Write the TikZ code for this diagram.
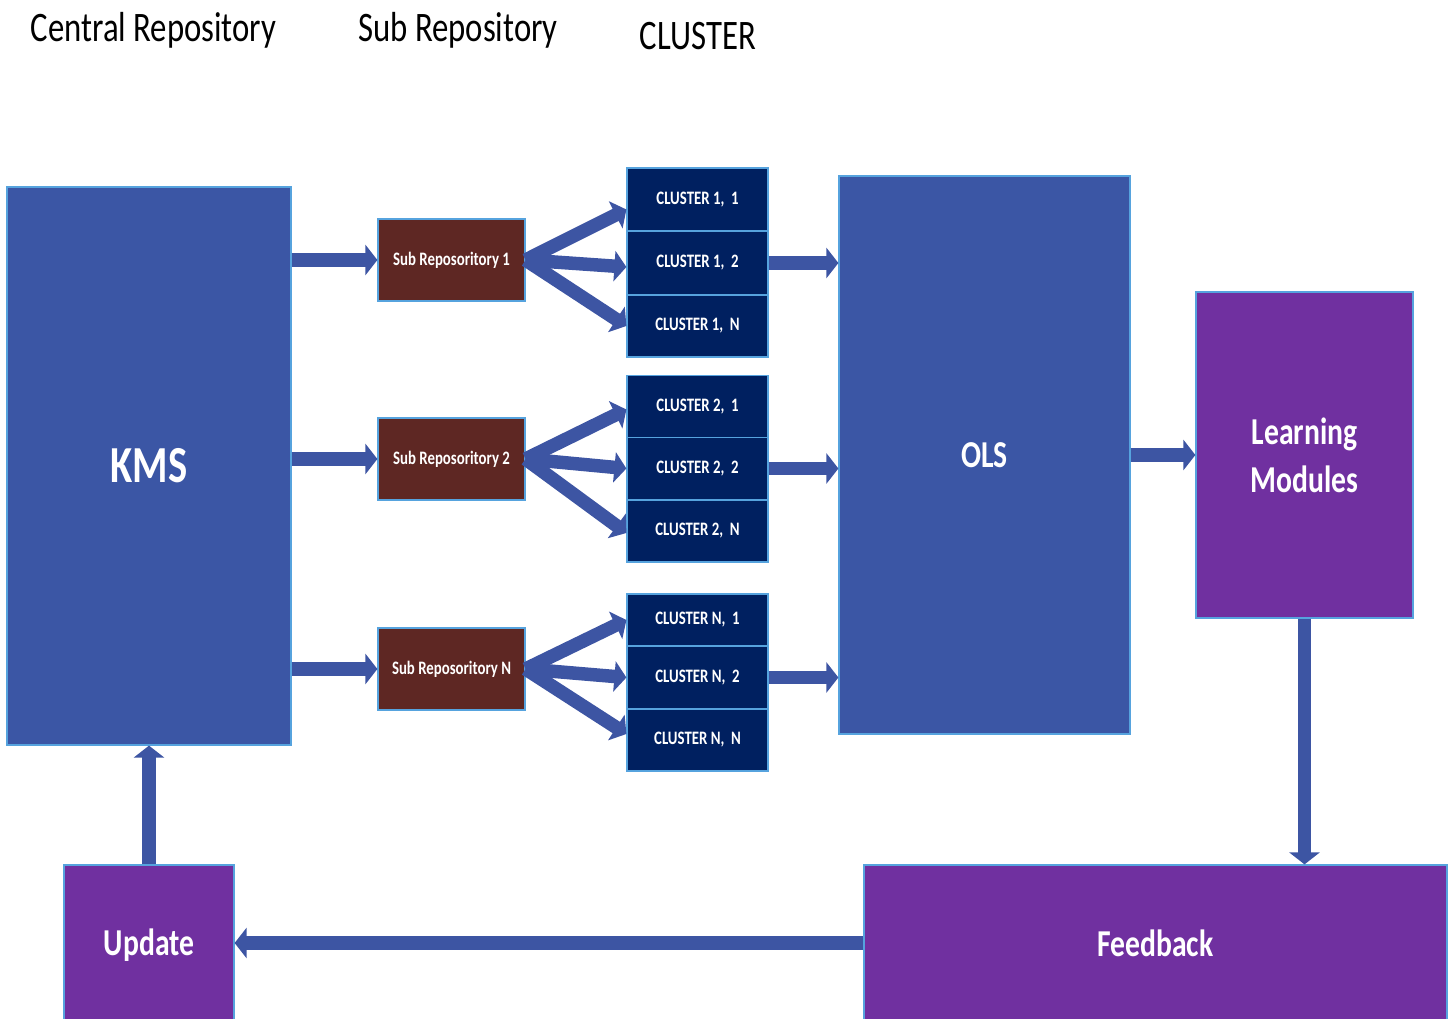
\documentclass[tikz,border=0pt]{standalone}
\usepackage{fontspec}
\setmainfont{Carlito}[FakeStretch=0.78]
\usepackage{tikz}
\usetikzlibrary{arrows.meta,calc}

\definecolor{kmsblue}{RGB}{59,86,165}
\definecolor{arrowblue}{RGB}{61,85,163}
\definecolor{edgeblue}{RGB}{86,163,222}
\definecolor{subbrown}{RGB}{94,39,35}
\definecolor{clnavy}{RGB}{0,32,96}
\definecolor{lmpurple}{RGB}{112,48,160}

\tikzset{
	box/.style={draw=edgeblue, line width=1.2pt, inner sep=0pt, text=white, align=center},
	bigbox/.style={box, fill=kmsblue, minimum width=284pt, minimum height=558pt},
	subbox/.style={box, fill=subbrown, minimum width=147pt, minimum height=82pt, font=\bfseries\fontsize{19}{22}\selectfont},
	clbox/.style={box, fill=clnavy, minimum width=141pt, font=\bfseries\fontsize{19}{22}\selectfont},
	purplebox/.style={box, fill=lmpurple, font=\bfseries\fontsize{38}{48}\selectfont},
	title/.style={anchor=base, font=\fontsize{42}{50}\selectfont},
	arr/.style={draw=arrowblue, line width=13.5pt, -{Triangle[width=30pt,length=12pt]}}
}

\begin{document}
\begin{tikzpicture}[x=1pt, y=-1pt]
		%%%%% START %%%%%
		\useasboundingbox (0, 0) rectangle (1454, 1019);
		
		\node[title] (tcentral) at (153.5, 42) {Central Repository};
		\node[title] (tsub) at (458, 41.5) {Sub Repository};
		\node[title] (tcluster) at (698, 49.5) {CLUSTER};
		
		\node[bigbox, font=\bfseries\fontsize{52}{60}\selectfont] (kms) at (149, 466) {KMS};
		\node[bigbox, minimum width=291pt, font=\bfseries\fontsize{38}{46}\selectfont] (ols) at (984.5, 455) {OLS};
		
		\node[subbox] (sub1) at (451.5, 260) {Sub Reposoritory 1};
		\node[subbox] (sub2) at (451.5, 459) {Sub Reposoritory 2};
		\node[subbox] (sub3) at (451.5, 669) {Sub Reposoritory N};
		
		\node[clbox, minimum height=63pt] (c11) at (697.5, 199.5) {CLUSTER 1,\ \ 1};
		\node[clbox, minimum height=64pt] (c12) at (697.5, 263) {CLUSTER 1,\ \ 2};
		\node[clbox, minimum height=62pt] (c13) at (697.5, 326) {CLUSTER 1,\ \ N};
		
		\node[clbox, minimum height=62pt] (c21) at (697.5, 406.5) {CLUSTER 2,\ \ 1};
		\node[clbox, minimum height=62pt] (c22) at (697.5, 468.5) {CLUSTER 2,\ \ 2};
		\node[clbox, minimum height=62pt] (c23) at (697.5, 531) {CLUSTER 2,\ \ N};
		
		\node[clbox, minimum height=52pt] (c31) at (697.5, 620) {CLUSTER N,\ \ 1};
		\node[clbox, minimum height=63pt] (c32) at (697.5, 677.5) {CLUSTER N,\ \ 2};
		\node[clbox, minimum height=62pt] (c33) at (697.5, 740) {CLUSTER N,\ \ N};
		
		\node[purplebox, minimum width=217pt, minimum height=326pt] (learn) at (1304.5, 455) {Learning\\Modules};
		\node[purplebox, minimum width=170pt, minimum height=160pt] (update) at (149, 945) {Update};
		\node[purplebox, minimum width=583pt, minimum height=156pt] (feed) at (1155.5, 943) {Feedback};
		
		% kms to sub repositories
		\draw[arr] (kms.east |- sub1) -- (sub1.west);
		\draw[arr] (kms.east |- sub2) -- (sub2.west);
		\draw[arr] (kms.east |- sub3) -- (sub3.west);
		
		% sub repositories to clusters
		\draw[arr] (sub1.east) -- ([yshift=-10pt]c11.west);
		\draw[arr] (sub1.east) -- ([yshift=-4pt]c12.west);
		\draw[arr] (sub1.east) -- (c13.west);
		\draw[arr] (sub2.east) -- ([yshift=-3pt]c21.west);
		\draw[arr] (sub2.east) -- (c22.west);
		\draw[arr] (sub2.east) -- ([yshift=-2pt]c23.west);
		\draw[arr] (sub3.east) -- (c31.west);
		\draw[arr] (sub3.east) -- (c32.west);
		\draw[arr] (sub3.east) -- ([yshift=6pt]c33.west);
		
		% clusters to ols
		\draw[arr] (c12.east) -- (c12.east -| ols.west);
		\draw[arr] (c22.east) -- (c22.east -| ols.west);
		\draw[arr] (c32.east) -- (c32.east -| ols.west);
		
		\draw[arr] (ols.east |- learn) -- (learn.west);
		\draw[arr] (learn.south) -- (learn.south |- feed.north);
		\draw[arr] (feed.west) -- (feed.west -| update.east);
		\draw[arr] (update.north) -- (kms.south);
		%%%%% END %%%%%
	\end{tikzpicture}
\end{document}
